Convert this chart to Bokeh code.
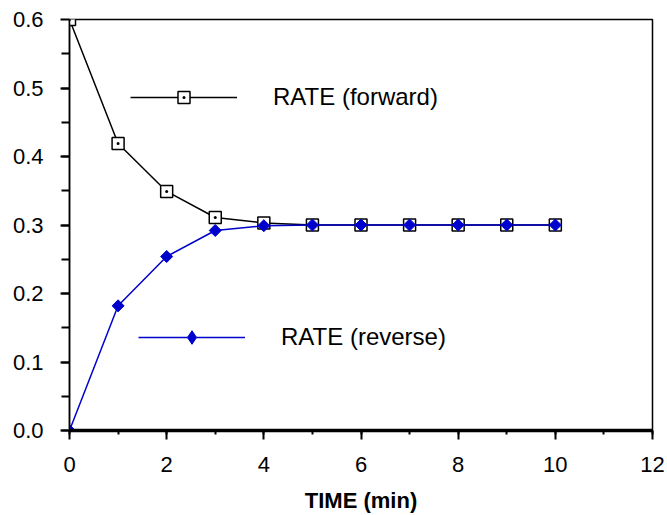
import math
from bokeh.plotting import figure
from bokeh.models import Legend, LegendItem, FixedTicker, NumeralTickFormatter, ColumnDataSource
from bokeh.embed import file_html
from bokeh.resources import INLINE

time_min = [0, 1, 2, 3, 4, 5, 6, 7, 8, 9, 10]
rate_forward = [0.600, 0.419, 0.349, 0.311, 0.303, 0.300, 0.300, 0.300, 0.300, 0.300, 0.300]
rate_reverse = [0.000, 0.182, 0.254, 0.292, 0.299, 0.300, 0.300, 0.300, 0.300, 0.300, 0.300]
x_ticks = [0, 2, 4, 6, 8, 10, 12]
y_ticks = [0.0, 0.1, 0.2, 0.3, 0.4, 0.5, 0.6]

FONT = "Liberation Sans"
BLUE = "#0000cc"

p = figure(width=667, height=515, output_backend="svg", toolbar_location=None,
           x_range=(0, 12), y_range=(0, 0.6),
           min_border_left=69, min_border_top=19, min_border_right=15, min_border_bottom=85)
p.grid.visible = False
p.background_fill_color = "white"
p.border_fill_color = "white"
p.outline_line_color = "black"
p.outline_line_width = 1.5

src = ColumnDataSource(dict(t=time_min, f=rate_forward, r=rate_reverse))

lf = p.line("t", "f", source=src, line_color="black", line_width=1.5)
sf = p.scatter("t", "f", source=src, marker="square_dot", size=12, line_color="black",
               fill_color="white", line_width=1.5)
lr = p.line("t", "r", source=src, line_color=BLUE, line_width=1.5)
# diamond key marker (used by the legend; hidden beneath the data markers)
sr_key = p.scatter("t", "r", source=src, marker="diamond", size=7, line_color=BLUE,
                   fill_color=BLUE, line_width=1)
sr = p.scatter("t", "r", source=src, marker="square", size=8.5, angle=math.pi / 4,
               line_color=BLUE, fill_color=BLUE, line_width=1)

# axes
xa = p.xaxis[0]
xa.ticker = FixedTicker(ticks=x_ticks, minor_ticks=list(range(0, 13)))
xa.axis_label = "TIME (min)"
xa.axis_label_text_font = FONT
xa.axis_label_text_font_style = "bold"
xa.axis_label_text_font_size = "22px"
xa.axis_label_text_color = "black"
xa.axis_label_standoff = 13
xa.major_label_text_font = FONT
xa.major_label_text_font_size = "22px"
xa.major_label_text_color = "black"
xa.major_label_standoff = 17
xa.axis_line_width = 3.5
xa.axis_line_color = "black"
xa.major_tick_out = 9
xa.major_tick_in = 0
xa.minor_tick_out = 4
xa.minor_tick_in = 0
xa.major_tick_line_width = 2
xa.minor_tick_line_width = 2

ya = p.yaxis[0]
ya.ticker = FixedTicker(ticks=y_ticks, minor_ticks=[i * 0.05 for i in range(13)])
ya.formatter = NumeralTickFormatter(format="0.0")
ya.major_label_text_font = FONT
ya.major_label_text_font_size = "22px"
ya.major_label_text_color = "black"
ya.major_label_standoff = 17
ya.axis_line_width = 1.5
ya.axis_line_color = "black"
ya.major_tick_out = 9
ya.major_tick_in = 0
ya.minor_tick_out = 8
ya.minor_tick_in = 0
ya.major_tick_line_width = 2
ya.minor_tick_line_width = 2

def make_legend(label, renderers, loc, gh):
    lg = Legend(items=[LegendItem(label=label, renderers=renderers)], location=loc,
                glyph_width=107, glyph_height=gh, label_height=gh, label_standoff=36,
                padding=0, margin=0, spacing=0, border_line_color=None,
                background_fill_alpha=0, label_text_font=FONT, label_text_font_size="24px",
                label_text_color="black")
    return lg

p.add_layout(make_legend("RATE (forward)", [lf, sf], (61, 318), 30), "center")
p.add_layout(make_legend("RATE (reverse)", [lr, sr_key], (69, 76), 34), "center")

open("out.html", "w").write(file_html(p, INLINE))
